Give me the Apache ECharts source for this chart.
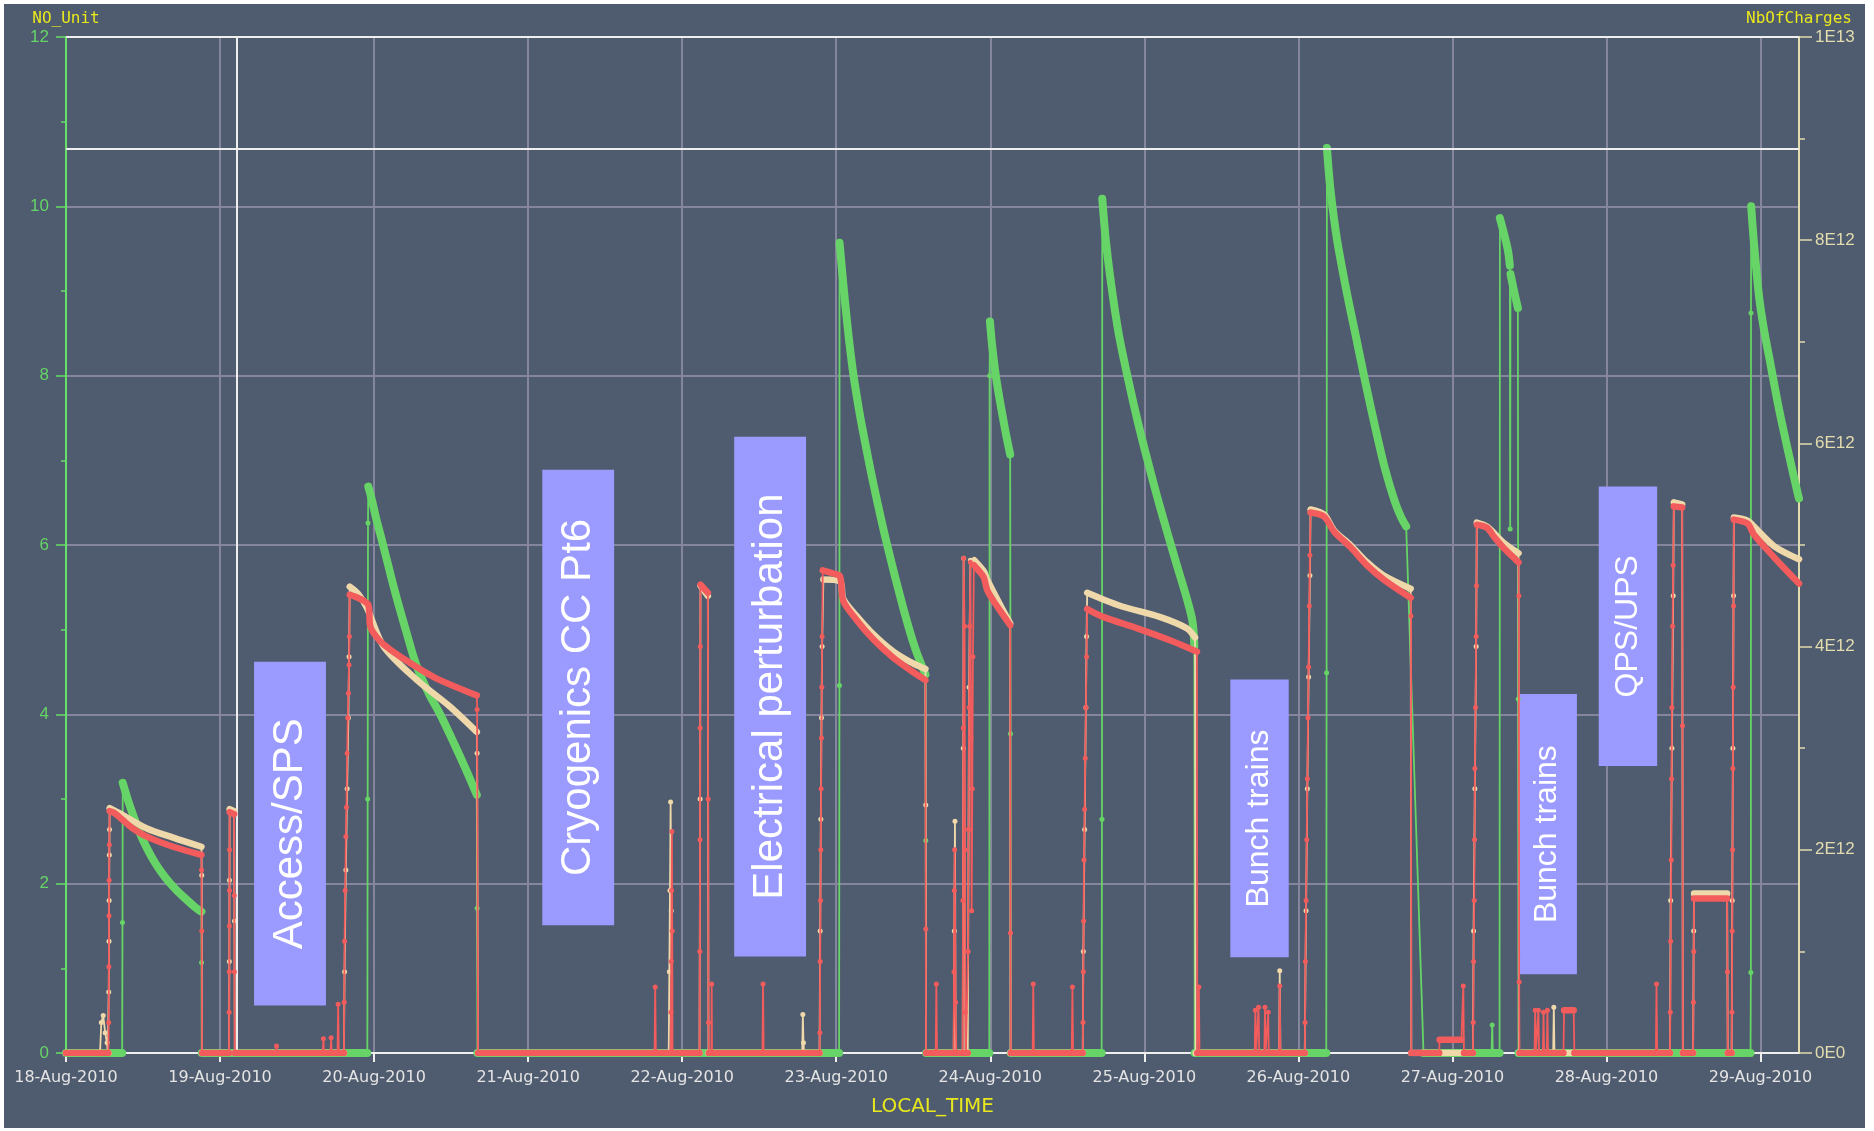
<!DOCTYPE html>
<html>
<head>
<meta charset="utf-8">
<title>LHC fills 18-29 Aug 2010</title>
<script src="https://cdn.jsdelivr.net/npm/echarts@6/dist/echarts.min.js"></script>
<style>
  html, body { margin: 0; padding: 0; background: #ffffff; }
  #chart { position: absolute; left: 4px; top: 4px; width: 1861px; height: 1124px; }
</style>
</head>
<body>
<div id="chart"></div>
<script>
// Time is in hours from 18-Aug-2010 00:00 (LOCAL_TIME).
const dayTicks = [0, 24, 48, 72, 96, 120, 144, 168, 192, 216, 240, 264];
const dateLabels = ['18-Aug-2010', '19-Aug-2010', '20-Aug-2010', '21-Aug-2010', '22-Aug-2010', '23-Aug-2010',
  '24-Aug-2010', '25-Aug-2010', '26-Aug-2010', '27-Aug-2010', '28-Aug-2010', '29-Aug-2010'];
const timeRange = [0, 270];

// Right axis: number of charges, in units of 1E12.
const chargeTicks = [0, 2, 4, 6, 8, 10];
const chargeLabels = ['0E0', '2E12', '4E12', '6E12', '8E12', '1E13'];

// Each log is a list of segments. A segment of several points is a densely
// logged stretch (drawn as a heavy band); a single point is an isolated sample.

// Beam intensity, red trace (1E12 charges)
const intensityRed = [
  [[0, 0], [6.6, 0]],
  [[6.65, 0.3]], [[6.68, 0.85]], [[6.7, 1.35]], [[6.72, 1.7]], [[6.75, 2.05]],
  [[6.8, 2.38], [7.6, 2.36], [8.9, 2.29], [10.2, 2.22], [12.6, 2.13], [16.7, 2.03], [21.1, 1.95]],
  [[21.12, 1.8]], [[21.15, 1.2]],
  [[21.2, 0], [25.4, 0]],
  [[25.42, 0.4]], [[25.44, 0.8]], [[25.45, 1.25]], [[25.47, 1.6]], [[25.48, 2.0]],
  [[25.5, 2.37], [26.2, 2.35]],
  [[26.22, 1.55]], [[26.24, 0.8]],
  [[26.3, 0], [32.7, 0]], [[32.8, 0.07]], [[32.9, 0], [40.0, 0]], [[40.1, 0.14]], [[40.2, 0], [41.2, 0]],
  [[41.3, 0.15]], [[41.4, 0], [42.3, 0]], [[42.4, 0.48]], [[42.5, 0], [43.3, 0]],
  [[43.35, 0.5]], [[43.4, 1.1]], [[43.5, 1.6]], [[43.6, 2.13]], [[43.7, 2.42]], [[43.8, 2.95]],
  [[43.9, 3.3]], [[44.0, 3.54]], [[44.1, 3.82]], [[44.15, 4.1]],
  [[44.2, 4.51], [45.5, 4.48], [47.1, 4.41], [47.4, 4.2], [48.3, 4.1], [49.5, 4.02], [52.1, 3.9], [57.3, 3.7], [64.0, 3.52]],
  [[64.05, 3.38]],
  [[64.2, 0], [91.7, 0]], [[91.8, 0.65]], [[91.9, 0], [94.2, 0]],
  [[94.25, 0.4]], [[94.3, 0.9]], [[94.35, 1.6]], [[94.4, 2.18]], [[94.45, 1.2]],
  [[94.5, 0], [98.7, 0]],
  [[98.75, 1.0]], [[98.78, 2.1]], [[98.8, 3.2]], [[98.82, 4.0]],
  [[98.85, 4.61], [100.0, 4.53]],
  [[100.05, 2.5]], [[100.1, 0.3]],
  [[100.15, 0], [100.55, 0]], [[100.6, 0.68]], [[100.65, 0], [108.5, 0]], [[108.6, 0.68]], [[108.7, 0], [117.4, 0]],
  [[117.45, 0.2]], [[117.5, 0.9]], [[117.55, 1.5]], [[117.6, 2.0]], [[117.65, 2.6]], [[117.7, 3.1]], [[117.75, 3.6]], [[117.8, 4.1]],
  [[117.9, 4.75], [119.5, 4.72], [120.6, 4.69], [121.1, 4.45], [123.2, 4.26], [125.8, 4.07], [128.9, 3.89], [131.5, 3.77], [133.9, 3.67]],
  [[133.95, 1.22]],
  [[134.0, 0], [135.5, 0]], [[135.6, 0.68]], [[135.7, 0], [138.3, 0]],
  [[138.35, 0.8]], [[138.4, 1.6]], [[138.45, 2.0]], [[138.6, 0.5]],
  [[138.7, 0], [139.7, 0]],
  [[139.75, 1.5]], [[139.8, 3.2]], [[139.85, 4.87]], [[140.0, 4.2]], [[140.05, 2.0]], [[140.1, 0.4]],
  [[140.2, 0], [140.5, 0]],
  [[140.55, 1.0]], [[140.6, 2.2]], [[140.7, 3.4]], [[140.8, 4.2]], [[140.9, 4.83]], [[141.0, 3.1]], [[141.1, 1.4]],
  [[141.2, 2.6]], [[141.3, 3.9]],
  [[141.45, 4.8], [142.3, 4.74], [143.0, 4.68], [143.5, 4.56], [144.5, 4.45], [145.8, 4.33], [147.1, 4.21]],
  [[147.15, 1.18]],
  [[147.2, 0], [150.6, 0]], [[150.7, 0.68]], [[150.8, 0], [156.7, 0]], [[156.8, 0.65]], [[156.9, 0], [158.4, 0]],
  [[158.45, 0.3]], [[158.5, 0.8]], [[158.55, 1.3]], [[158.6, 1.9]], [[158.7, 2.4]], [[158.8, 2.9]], [[158.9, 3.4]], [[159.0, 3.9]],
  [[159.1, 4.37], [161.7, 4.29], [166.9, 4.18], [172.1, 4.06], [176.2, 3.95]],
  [[176.25, 0], [176.45, 0]], [[176.5, 0.65]], [[176.6, 0], [185.2, 0]], [[185.3, 0.42]], [[185.4, 0], [185.7, 0]],
  [[185.8, 0.45]], [[185.9, 0], [186.7, 0]], [[186.8, 0.45]], [[186.9, 0], [187.2, 0]], [[187.3, 0.4]],
  [[187.4, 0], [189.0, 0]], [[189.1, 0.66]], [[189.2, 0], [193.0, 0]],
  [[193.05, 0.3]], [[193.1, 0.9]], [[193.2, 1.5]], [[193.3, 2.1]], [[193.4, 2.7]], [[193.5, 3.3]], [[193.6, 3.8]], [[193.7, 4.4]], [[193.8, 4.9]],
  [[193.9, 5.32], [196.0, 5.28], [197.6, 5.13], [200.1, 4.98], [202.7, 4.8], [205.3, 4.66], [209.5, 4.48]],
  [[209.55, 4.3]],
  [[209.6, 0], [213.95, 0]],
  [[214.0, 0.13], [217.4, 0.13]], [[217.7, 0.66]],
  [[217.8, 0], [219.2, 0]],
  [[219.25, 0.3]], [[219.3, 0.9]], [[219.4, 1.5]], [[219.45, 2.1]], [[219.5, 2.8]], [[219.6, 3.4]], [[219.7, 4.1]], [[219.75, 4.6]],
  [[219.8, 5.2], [221.4, 5.17], [222.5, 5.08], [224.0, 4.97], [226.3, 4.83]],
  [[226.35, 4.5]], [[226.4, 0.7]],
  [[226.45, 0], [228.8, 0]], [[228.9, 0.42]], [[229.0, 0], [229.3, 0]], [[229.4, 0.42]], [[229.5, 0], [230.1, 0]],
  [[230.2, 0.4]], [[230.3, 0], [230.7, 0]], [[230.8, 0.42]], [[230.9, 0], [233.3, 0]], [[233.4, 0.42], [234.9, 0.42]],
  [[235.0, 0], [247.7, 0]], [[247.8, 0.68]], [[247.9, 0], [249.9, 0]],
  [[249.95, 0.4]], [[250.0, 1.1]], [[250.1, 1.9]], [[250.15, 2.7]], [[250.2, 3.4]], [[250.3, 4.2]], [[250.4, 4.8]],
  [[250.5, 5.38], [251.8, 5.37]],
  [[251.85, 3.22]],
  [[251.9, 0], [253.5, 0]],
  [[253.55, 0.5]], [[253.6, 1.0]],
  [[253.65, 1.52], [258.8, 1.52]],
  [[258.85, 0.8]],
  [[258.9, 0], [259.5, 0]],
  [[259.55, 0.4]], [[259.6, 1.2]], [[259.65, 2.0]], [[259.7, 2.8]], [[259.75, 3.6]], [[259.8, 4.4]],
  [[259.85, 5.25], [262.0, 5.21], [263.0, 5.1], [266.1, 4.88], [270, 4.62]]
];

// Beam intensity, beige trace (1E12 charges)
const intensityBeige = [
  [[0, 0], [5.3, 0]], [[5.5, 0.3]], [[5.8, 0.37]], [[6.1, 0.2]], [[6.4, 0.1]],
  [[6.5, 0], [6.62, 0]],
  [[6.66, 0.6]], [[6.7, 1.1]], [[6.72, 1.5]], [[6.75, 1.95]], [[6.78, 2.2]],
  [[6.8, 2.41], [8.9, 2.34], [12.6, 2.21], [16.7, 2.12], [21.1, 2.03]],
  [[21.15, 1.75]],
  [[21.2, 0], [25.4, 0]],
  [[25.45, 0.9]], [[25.47, 1.7]],
  [[25.5, 2.4], [26.2, 2.38]],
  [[26.25, 1.3]],
  [[26.3, 0], [43.3, 0]],
  [[43.4, 0.8]], [[43.6, 1.8]], [[43.8, 2.6]], [[44.0, 3.3]], [[44.1, 3.9]],
  [[44.2, 4.59], [45.5, 4.52], [46.9, 4.38], [49.5, 4.0], [54.7, 3.67], [59.8, 3.41], [64.0, 3.16]],
  [[64.05, 2.95]],
  [[64.2, 0], [93.9, 0]],
  [[94.0, 0.8]], [[94.1, 1.6]], [[94.2, 2.47]], [[94.3, 1.4]],
  [[94.4, 0], [98.7, 0]],
  [[98.8, 2.5]],
  [[98.85, 4.6], [100.0, 4.5]],
  [[100.1, 0], [114.7, 0]], [[114.8, 0.38]], [[114.9, 0.1]],
  [[115.0, 0], [117.4, 0]],
  [[117.5, 1.2]], [[117.6, 2.3]], [[117.7, 3.3]], [[117.8, 4.0]],
  [[118.0, 4.66], [120.6, 4.64], [121.1, 4.47], [123.2, 4.3], [125.8, 4.12], [128.9, 3.95], [131.5, 3.85], [133.9, 3.78]],
  [[133.95, 2.44]],
  [[134.0, 0], [138.3, 0]],
  [[138.4, 1.2]], [[138.5, 2.28]],
  [[138.6, 0], [139.7, 0]],
  [[139.8, 3.0]], [[139.85, 4.87]],
  [[140.1, 0], [140.5, 0]],
  [[140.7, 3.6]], [[140.9, 4.85]],
  [[141.5, 4.85], [143.0, 4.74], [143.5, 4.66], [145.8, 4.38], [147.1, 4.23]],
  [[147.15, 0], [158.4, 0]],
  [[158.5, 1.0]], [[158.7, 2.2]], [[158.9, 3.4]], [[159.0, 4.1]],
  [[159.1, 4.53], [164.3, 4.4], [170.5, 4.29], [174.6, 4.18], [175.9, 4.09]],
  [[176.0, 0], [189.0, 0]], [[189.1, 0.81]],
  [[189.2, 0], [193.0, 0]],
  [[193.2, 1.4]], [[193.4, 2.6]], [[193.6, 3.7]], [[193.8, 4.7]],
  [[193.9, 5.35], [196.0, 5.3], [197.6, 5.14], [200.1, 5.0], [202.7, 4.83], [205.3, 4.7], [209.5, 4.57]],
  [[209.6, 0], [219.2, 0]],
  [[219.3, 1.2]], [[219.5, 2.6]], [[219.7, 4.0]],
  [[219.8, 5.22], [221.4, 5.18], [224.0, 5.02], [226.3, 4.92]],
  [[226.4, 0], [231.7, 0]], [[231.8, 0.45]],
  [[231.9, 0], [249.9, 0]],
  [[250.0, 1.5]], [[250.2, 3.0]], [[250.4, 4.5]],
  [[250.5, 5.42], [251.8, 5.4]],
  [[251.9, 0], [253.5, 0]],
  [[253.6, 1.2]],
  [[253.65, 1.57], [258.8, 1.57]],
  [[258.9, 0], [259.5, 0]],
  [[259.6, 1.5]], [[259.7, 3.0]], [[259.8, 4.5]],
  [[259.85, 5.27], [262.0, 5.24], [263.0, 5.18], [266.1, 4.99], [270, 4.86]]
];

// Luminosity, green trace (NO_Unit, left axis)
const luminosity = [
  [[0, 0], [8.75, 0]],
  [[8.8, 1.54]],
  [[8.84, 3.19], [9.6, 3.0], [10.5, 2.8], [11.5, 2.6], [12.6, 2.42], [14.0, 2.23], [15.5, 2.07], [17.0, 1.94], [18.5, 1.83], [20.0, 1.73], [21.1, 1.67]],
  [[21.12, 1.07]],
  [[21.15, 0], [46.95, 0]],
  [[47.0, 3.0]], [[47.05, 6.26]],
  [[47.1, 6.69], [47.6, 6.55], [48.3, 6.32], [49.2, 6.06], [50.2, 5.76], [51.5, 5.38], [53.0, 4.98], [54.5, 4.6], [56.5, 4.25], [58.3, 4.0], [60.5, 3.65], [62.3, 3.35], [64.0, 3.05]],
  [[64.05, 1.71]],
  [[64.1, 0], [120.45, 0]],
  [[120.5, 4.34]],
  [[120.52, 9.57], [120.9, 9.25], [121.4, 8.85], [122.0, 8.42], [122.7, 8.0], [123.5, 7.62], [124.3, 7.29], [125.8, 6.72], [127.9, 6.01], [130.5, 5.24], [132.3, 4.78], [133.9, 4.47]],
  [[133.95, 2.51]],
  [[134.0, 0], [143.85, 0]],
  [[143.9, 8.0]],
  [[143.95, 8.64], [144.3, 8.35], [144.9, 7.98], [145.6, 7.66], [146.4, 7.33], [147.1, 7.07]],
  [[147.15, 3.77]],
  [[147.2, 0], [161.35, 0]],
  [[161.4, 2.76]],
  [[161.45, 10.09], [162.0, 9.6], [162.8, 9.1], [164.0, 8.5], [165.5, 7.95], [167.0, 7.45], [168.5, 7.0], [170.0, 6.57], [171.5, 6.17], [173.0, 5.78], [174.5, 5.4], [175.5, 5.1], [175.8, 4.8]],
  [[175.85, 0], [196.35, 0]],
  [[196.4, 4.49]],
  [[196.45, 10.69], [197.0, 10.2], [198.0, 9.62], [199.5, 9.0], [201.0, 8.45], [202.5, 7.9], [204.0, 7.38], [205.5, 6.9], [207.0, 6.52], [208.0, 6.33], [208.8, 6.22]],
  [[211.5, 0], [222.1, 0]],
  [[222.2, 0.33]],
  [[222.3, 0], [223.35, 0]],
  [[223.4, 9.86], [224.6, 9.5], [224.95, 9.3]],
  [[225.0, 6.19]],
  [[225.05, 9.2], [225.6, 9.0], [226.2, 8.8]],
  [[226.25, 4.18]],
  [[226.3, 0], [262.45, 0]],
  [[262.5, 0.95]], [[262.52, 8.74]],
  [[262.55, 10.0], [263.0, 9.55], [263.8, 8.92], [264.6, 8.52], [265.4, 8.2], [266.9, 7.6], [268.5, 7.04], [269.8, 6.61], [270, 6.55]]
];

// Reference cursor and level drawn in white
const cursorHour = 26.6;
const referenceLevel = 10.68;

// Shift annotations: [start hour, end hour] and [top, bottom] on the NO_Unit axis
const noteLabels = ['Access/SPS', 'Cryogenics CC Pt6', 'Electrical perturbation', 'Bunch trains', 'Bunch trains', 'QPS/UPS'];
const noteHours = [[29.3, 40.5], [74.2, 85.4], [104.1, 115.3], [181.4, 190.5], [226.2, 235.4], [238.8, 247.9]];
const noteLevels = [[4.62, 0.56], [6.89, 1.51], [7.28, 1.14], [4.41, 1.13], [4.24, 0.93], [6.69, 3.39]];

const COLORS = {
  bg: '#4f5b6e',
  grid: '#85859d',
  red: '#f25c5c',
  beige: '#efd9aa',
  green: '#66d466',
  greenAxis: '#66e066',
  beigeAxis: '#e2dcae',
  yellow: '#e8e81c',
  white: '#eeeeee',
  note: '#9a9aff'
};

function thinTrace(segments, color, yAxisIndex, z) {
  return {
    type: 'line', yAxisIndex, z, silent: true, animation: false,
    data: segments.flat(),
    symbol: 'circle', symbolSize: 5, showSymbol: true, showAllSymbol: true,
    itemStyle: { color },
    lineStyle: { color, width: 1.8 }
  };
}

function heavyTrace(segments, color, yAxisIndex, z, width) {
  const data = [];
  segments.filter(s => s.length > 1).forEach(s => {
    if (data.length) data.push([s[0][0], '-']);
    data.push(...s);
  });
  return {
    type: 'line', yAxisIndex, z, silent: true, animation: false,
    data, showSymbol: false, connectNulls: false, smooth: 0.3,
    lineStyle: { color, width, cap: 'round', join: 'round' }
  };
}

const chart = echarts.init(document.getElementById('chart'), null, { renderer: 'canvas' });

const option = {
  backgroundColor: COLORS.bg,
  animation: false,
  grid: { left: 62, right: 66, top: 33, bottom: 75, show: true, borderColor: COLORS.white, borderWidth: 2 },
  xAxis: {
    type: 'value', min: timeRange[0], max: timeRange[1],
    name: 'LOCAL_TIME', nameLocation: 'middle', nameGap: 44,
    nameTextStyle: { color: COLORS.yellow, fontSize: 20, fontFamily: 'DejaVu Sans' },
    axisLine: { lineStyle: { color: COLORS.white, width: 2 } },
    axisTick: { length: 9, customValues: dayTicks, lineStyle: { color: COLORS.white, width: 2 } },
    axisLabel: {
      customValues: dayTicks, color: '#e4e4e4', fontSize: 16, fontFamily: 'DejaVu Sans', margin: 17,
      formatter: v => { const i = dayTicks.indexOf(v); return i >= 0 ? dateLabels[i] : ''; }
    },
    splitLine: { show: true, lineStyle: { color: COLORS.grid, width: 2 } }
  },
  yAxis: [
    {
      type: 'value', position: 'left', min: 0, max: 12, interval: 2,
      name: 'NO_Unit', nameLocation: 'end', nameGap: 10,
      nameTextStyle: { color: COLORS.yellow, fontSize: 16, fontFamily: 'DejaVu Sans Mono' },
      axisLine: { show: true, lineStyle: { color: COLORS.greenAxis, width: 2 } },
      axisTick: { show: true, length: 10, lineStyle: { color: COLORS.greenAxis, width: 1.5 } },
      minorTick: { show: true, splitNumber: 2, length: 5, lineStyle: { color: COLORS.greenAxis, width: 1.5 } },
      axisLabel: { color: COLORS.green, fontSize: 17, fontFamily: 'Liberation Sans', margin: 17 },
      splitLine: { show: true, lineStyle: { color: COLORS.grid, width: 2 } }
    },
    {
      type: 'value', position: 'right', min: 0, max: 10, interval: 2,
      name: 'NbOfCharges', nameLocation: 'end', nameGap: 10,
      nameTextStyle: { color: COLORS.yellow, fontSize: 16, fontFamily: 'DejaVu Sans Mono' },
      axisLine: { show: true, lineStyle: { color: COLORS.beigeAxis, width: 2 } },
      axisTick: { show: true, length: 13, lineStyle: { color: COLORS.beigeAxis, width: 1.5 } },
      minorTick: { show: true, splitNumber: 2, length: 6, lineStyle: { color: COLORS.beigeAxis, width: 1.5 } },
      axisLabel: {
        color: COLORS.beigeAxis, fontSize: 17, fontFamily: 'Liberation Sans', margin: 16,
        formatter: v => chargeLabels[chargeTicks.indexOf(v)] || ''
      },
      splitLine: { show: false }
    }
  ],
  series: [
    {
      type: 'line', yAxisIndex: 0, z: 1, data: [], silent: true,
      markLine: {
        silent: true, symbol: 'none', animation: false,
        label: { show: false },
        lineStyle: { color: COLORS.white, width: 2, type: 'solid' },
        data: [{ yAxis: 12 }, { yAxis: referenceLevel }, { xAxis: cursorHour }]
      }
    },
    thinTrace(luminosity, COLORS.green, 0, 2),
    heavyTrace(luminosity, COLORS.green, 0, 3, 8),
    thinTrace(intensityBeige, COLORS.beige, 1, 4),
    heavyTrace(intensityBeige, COLORS.beige, 1, 5, 6.5),
    thinTrace(intensityRed, COLORS.red, 1, 6),
    heavyTrace(intensityRed, COLORS.red, 1, 7, 6.5),
    {
      type: 'line', yAxisIndex: 0, z: 10, data: [], silent: true,
      markArea: {
        silent: true, animation: false,
        itemStyle: { color: COLORS.note, opacity: 1 },
        data: noteLabels.map((label, i) => [
          {
            name: label, xAxis: noteHours[i][0], yAxis: noteLevels[i][0],
            label: {
              show: true, position: 'inside', rotate: 90, color: '#ffffff',
              fontFamily: 'Liberation Sans', fontSize: i < 3 ? 42 : 32
            }
          },
          { xAxis: noteHours[i][1], yAxis: noteLevels[i][1] }
        ])
      }
    }
  ]
};

chart.setOption(option);
</script>
</body>
</html>
